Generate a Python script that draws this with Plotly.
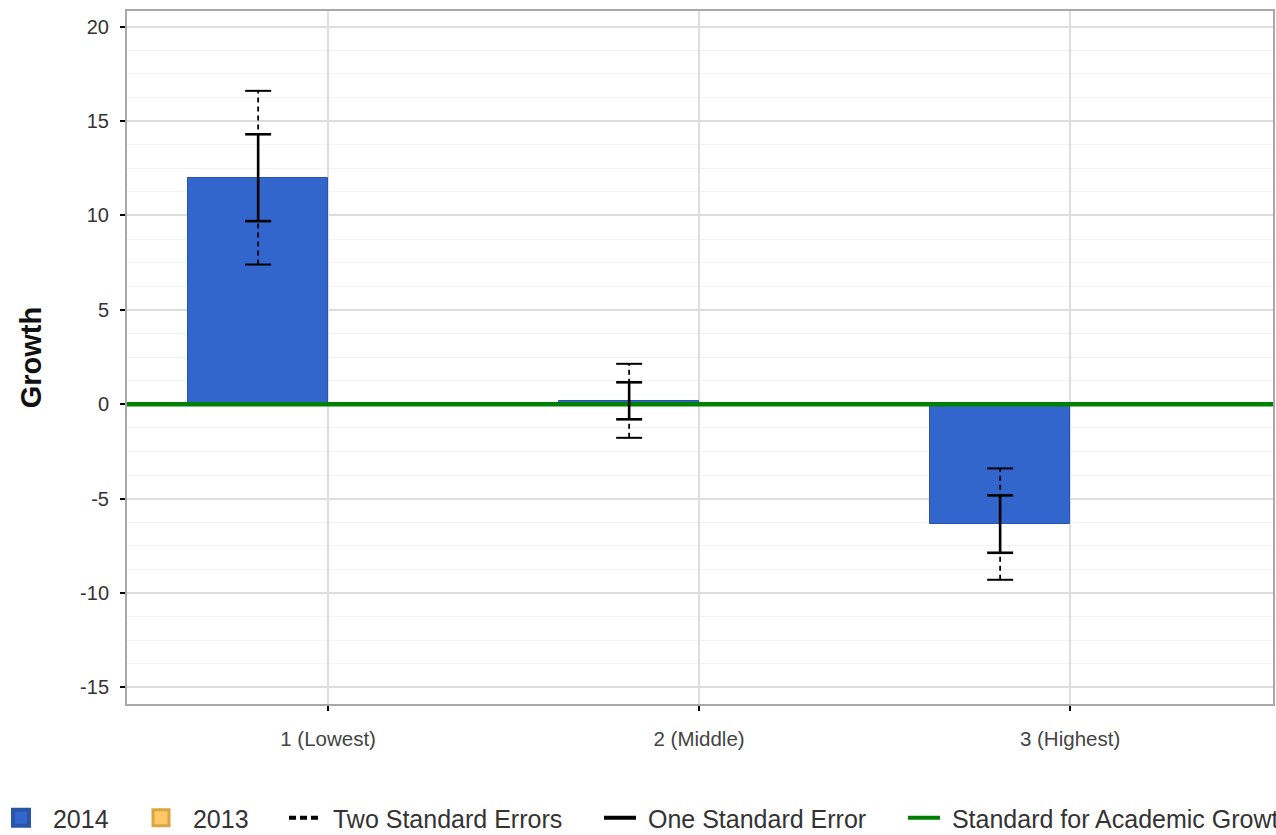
import plotly.graph_objects as go

# ---------------- data ----------------
CATEGORIES = ["1 (Lowest)", "2 (Middle)", "3 (Highest)"]
GROWTH_2014 = [12.0, 0.18, -6.35]
GROWTH_2013 = [None, None, None]
ONE_SE = [2.3, 0.98, 1.52]
TWO_SE = [4.6, 1.96, 2.95]
STANDARD = 0
Y_TICKS = [-15, -10, -5, 0, 5, 10, 15, 20]
Y_TICK_TEXT = [str(v) for v in Y_TICKS]

# ---------------- style ----------------
BLUE = "#3366cc"
BLUE_EDGE = "#2a54a8"
YELLOW = "#ffc966"
YELLOW_EDGE = "#d9a441"
GREEN = "#008000"
FONT = "Liberation Sans, Arial, sans-serif"
X_RANGE = [-0.542, 2.547]
Y_RANGE = [-15.88, 20.83]
BAR_W = 0.377
CAP = 0.035
NB = "\u00a0"

FIG_W, FIG_H = 1276, 835
PLOT_W, PLOT_H = 1146, 693
M_L, M_T = 127, 11
M_R = FIG_W - M_L - PLOT_W
M_B = FIG_H - M_T - PLOT_H

idx = list(range(len(CATEGORIES)))
err_x = [i - BAR_W / 2 for i in idx]


def vert_segments(xs, vals, errs):
    px, py = [], []
    for x, v, e in zip(xs, vals, errs):
        px += [x, x, None]
        py += [v - e, v + e, None]
    return px, py


def cap_segments(xs, vals, errs):
    px, py = [], []
    for x, v, e in zip(xs, vals, errs):
        for yy in (v + e, v - e):
            px += [x - CAP, x + CAP, None]
            py += [yy, yy, None]
    return px, py


fig = go.Figure()

# bars
fig.add_trace(go.Bar(
    x=idx, y=GROWTH_2014, width=BAR_W, offset=-BAR_W,
    marker=dict(color=BLUE, line=dict(color=BLUE_EDGE, width=1)),
    showlegend=False, name="2014", hoverinfo="skip"))

# standard line
fig.add_trace(go.Scatter(
    x=X_RANGE, y=[STANDARD, STANDARD], mode="lines",
    line=dict(color=GREEN, width=4.5), showlegend=False, hoverinfo="skip"))

# two standard errors (dashed)
vx, vy = vert_segments(err_x, GROWTH_2014, TWO_SE)
fig.add_trace(go.Scatter(x=vx, y=vy, mode="lines",
                         line=dict(color="black", width=1.8, dash="5px,4px"),
                         showlegend=False, hoverinfo="skip"))
cx, cy = cap_segments(err_x, GROWTH_2014, TWO_SE)
fig.add_trace(go.Scatter(x=cx, y=cy, mode="lines",
                         line=dict(color="black", width=2),
                         showlegend=False, hoverinfo="skip"))

# one standard error (solid)
vx, vy = vert_segments(err_x, GROWTH_2014, ONE_SE)
fig.add_trace(go.Scatter(x=vx, y=vy, mode="lines",
                         line=dict(color="black", width=2.6),
                         showlegend=False, hoverinfo="skip"))
cx, cy = cap_segments(err_x, GROWTH_2014, ONE_SE)
fig.add_trace(go.Scatter(x=cx, y=cy, mode="lines",
                         line=dict(color="black", width=2.6),
                         showlegend=False, hoverinfo="skip"))

# legend entries
fig.add_trace(go.Scatter(x=[None], y=[None], mode="markers", name=NB + "2014",
                         marker=dict(symbol="square", size=16, color=BLUE,
                                     line=dict(color=BLUE_EDGE, width=4)),
                         legend="legend"))
fig.add_trace(go.Scatter(x=[None], y=[None], mode="markers", name=NB + "2013",
                         marker=dict(symbol="square", size=16, color=YELLOW,
                                     line=dict(color=YELLOW_EDGE, width=3)),
                         legend="legend2"))
fig.add_trace(go.Scatter(x=[None], y=[None], mode="lines", name=NB + "Two Standard Errors",
                         line=dict(color="black", width=4, dash="7px,4px"),
                         legend="legend3"))
fig.add_trace(go.Scatter(x=[None], y=[None], mode="lines", name=NB + "One Standard Error",
                         line=dict(color="black", width=4),
                         legend="legend4"))
fig.add_trace(go.Scatter(x=[None], y=[None], mode="lines",
                         name=NB + "Standard for Academic Growth",
                         line=dict(color=GREEN, width=4),
                         legend="legend5"))

LEG_Y = -(818 - (M_T + PLOT_H)) / PLOT_H
leg_common = dict(orientation="h", yanchor="middle", y=LEG_Y, xanchor="left",
                  font=dict(family=FONT, size=25, color="#333"),
                  bgcolor="rgba(0,0,0,0)", borderwidth=0)


def px2paper(px):
    return (px - M_L) / PLOT_W


fig.update_layout(
    width=FIG_W, height=FIG_H,
    margin=dict(l=M_L, r=M_R, t=M_T, b=M_B, autoexpand=False),
    paper_bgcolor="white", plot_bgcolor="white",
    font=dict(family=FONT, color="#333"),
    legend=dict(leg_common, x=px2paper(-4), itemwidth=40),
    legend2=dict(leg_common, x=px2paper(136), itemwidth=40),
    legend3=dict(leg_common, x=px2paper(284), itemwidth=32),
    legend4=dict(leg_common, x=px2paper(599), itemwidth=32),
    legend5=dict(leg_common, x=px2paper(903), itemwidth=32),
    xaxis=dict(range=X_RANGE, tickvals=idx, ticktext=CATEGORIES,
               showgrid=True, gridcolor="#dddddd", gridwidth=1.5,
               zeroline=False, showline=True, linecolor="#a8a8a8", linewidth=2,
               mirror=True, ticks="outside", ticklen=5, tickwidth=2, tickcolor="black",
               tickfont=dict(family=FONT, size=20.5, color="#444"),
               ticklabelstandoff=10),
    yaxis=dict(range=Y_RANGE, tickvals=Y_TICKS, ticktext=Y_TICK_TEXT,
               showgrid=True, gridcolor="#dcdcdc", gridwidth=1.5,
               minor=dict(dtick=1.25, tick0=0, showgrid=True, gridcolor="#f2f2f2",
                          gridwidth=1.2, ticks=""),
               zeroline=False, showline=True, linecolor="#a8a8a8", linewidth=2,
               mirror=True, ticks="outside", ticklen=5, tickwidth=2, tickcolor="black",
               tickfont=dict(family=FONT, size=20, color="#333"),
               ticklabelstandoff=7,
               title=dict(text="<b>Growth</b>", standoff=30,
                          font=dict(family=FONT, size=29, color="#111"))),
    xaxis2=dict(range=X_RANGE, overlaying="x", side="bottom", tickvals=idx,
                ticktext=["", "", ""], showgrid=False, zeroline=False, showline=False,
                ticks="inside", ticklen=6, tickwidth=2, tickcolor="black"),
    yaxis2=dict(range=Y_RANGE, overlaying="y", side="left", tickvals=Y_TICKS,
                ticktext=[""] * len(Y_TICKS), showgrid=False, zeroline=False,
                showline=False, ticks="inside", ticklen=5, tickwidth=2, tickcolor="black"),
    bargap=0,
)

fig.write_html("out.html",
               config={"displayModeBar": False},
               post_script="document.body.style.margin='0px';"
                           "document.body.style.overflow='hidden';")
